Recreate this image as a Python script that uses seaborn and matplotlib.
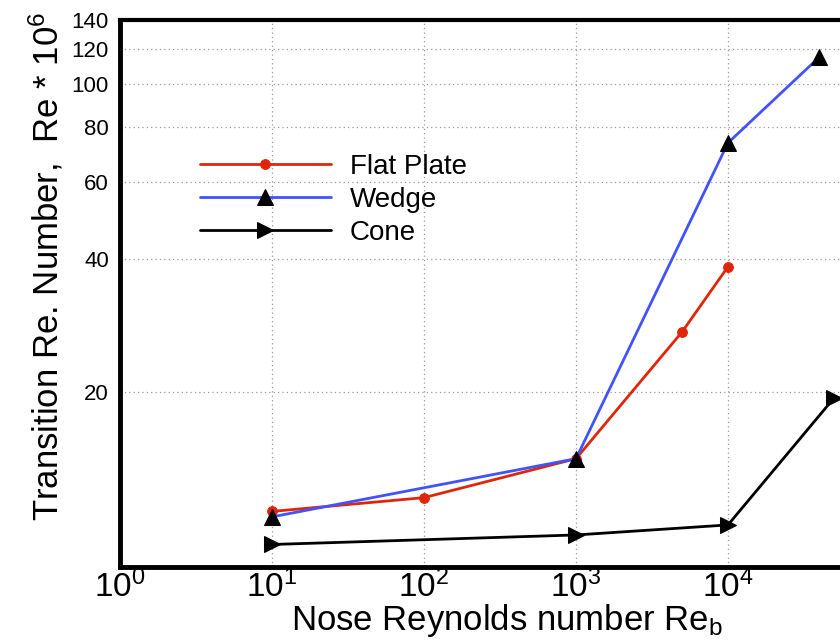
import numpy as np
import pandas as pd
import seaborn as sns
import matplotlib
matplotlib.use("Agg")
import matplotlib.pyplot as plt
from matplotlib.ticker import FixedLocator, NullFormatter

# Transition Reynolds number (x 1e6) versus nose Reynolds number
flat_x = [10, 100, 1000, 5000, 10000]
flat_y = [10.7, 11.5, 14.1, 27.4, 38.5]

wedge_x = [10, 1000, 10000, 40000]
wedge_y = [10.4, 14.1, 73.6, 115.4]

cone_x = [10, 1000, 10000, 50000]
cone_y = [9.0, 9.46, 9.97, 19.4]

series_names = ["Flat Plate", "Wedge", "Cone"]
y_major = [20, 40, 60, 80, 100, 120, 140]
x_major = [1, 10, 100, 1000, 10000]

sns.set_style("white")
plt.rcParams["font.family"] = ["Liberation Sans", "DejaVu Sans"]
plt.rcParams["mathtext.default"] = "regular"
plt.rcParams["text.color"] = "black"
plt.rcParams["axes.labelcolor"] = "black"
plt.rcParams["xtick.color"] = "black"
plt.rcParams["ytick.color"] = "black"

fig = plt.figure(figsize=(8.4, 6.43), dpi=100)
ax = fig.add_axes([0.1429, 0.1182, 0.8571, 0.8507])

df = pd.concat([
    pd.DataFrame({"Re_b": flat_x, "Re_t": flat_y, "body": series_names[0]}),
    pd.DataFrame({"Re_b": wedge_x, "Re_t": wedge_y, "body": series_names[1]}),
    pd.DataFrame({"Re_b": cone_x, "Re_t": cone_y, "body": series_names[2]}),
])

styles = {
    "Flat Plate": dict(color="#e0260a", marker="o", ms=7, mfc="#e0260a", mec="#e0260a"),
    "Wedge": dict(color="#4152ff", marker="^", ms=12, mfc="black", mec="black"),
    "Cone": dict(color="black", marker=">", ms=12, mfc="black", mec="black"),
}

for name in series_names:
    st = styles[name]
    sub = df[df["body"] == name]
    sns.lineplot(data=sub, x="Re_b", y="Re_t", ax=ax, color=st["color"],
                 marker=st["marker"], markersize=st["ms"],
                 markerfacecolor=st["mfc"], markeredgecolor=st["mec"],
                 linewidth=2, label=name, zorder=3, clip_on=False)

ax.set_xscale("log")
ax.set_yscale("log")
ax.set_xlim(1, 10 ** 4.737)
ax.set_ylim(8.0, 140)

# y ticks: labelled majors every 20, minors every 5
ax.yaxis.set_major_locator(FixedLocator(y_major))
ax.yaxis.set_minor_locator(FixedLocator([v for v in range(10, 141, 5) if v not in y_major]))
ax.set_yticklabels([str(v) for v in y_major])
ax.yaxis.set_minor_formatter(NullFormatter())

# x ticks: decades with sub-decade minors
ax.xaxis.set_major_locator(FixedLocator(x_major))
ax.set_xticklabels([r"$10^{%d}$" % int(np.log10(v)) for v in x_major])
ax.xaxis.set_minor_locator(FixedLocator([m * 10 ** d for d in range(0, 5) for m in range(2, 10)]))
ax.xaxis.set_minor_formatter(NullFormatter())

ax.tick_params(axis="both", which="major", direction="in", length=10, width=3, color="black")
ax.tick_params(axis="both", which="minor", direction="in", length=6, width=1.2, color="black")
ax.tick_params(axis="y", which="major", labelsize=16, pad=8)
ax.tick_params(axis="x", which="major", labelsize=24, pad=2)
ax.tick_params(top=False, right=False, which="both")

ax.grid(True, which="major", color="#9a9a9a", linestyle=(0, (1, 2.5)), linewidth=0.9)

for side in ["left", "bottom", "top"]:
    ax.spines[side].set_visible(True)
    ax.spines[side].set_color("black")
    ax.spines[side].set_linewidth(3.5)
ax.spines["top"].set_linewidth(3)
ax.spines["right"].set_visible(False)

ax.set_xlabel(r"Nose Reynolds number Re$_b$", fontsize=25)
ax.xaxis.set_label_coords(0.5375, -0.064)
ax.set_ylabel(r"Transition Re. Number,  Re * 10$^{6}$", fontsize=25)
ax.yaxis.set_label_coords(-0.076, 0.55)

leg = ax.legend(loc="center left", bbox_to_anchor=(0.111, 0.671), frameon=False,
                fontsize=20, handlelength=4.7, handletextpad=0.7, labelspacing=0.25,
                borderpad=0, borderaxespad=0)

fig.savefig("out.png", dpi=100)
